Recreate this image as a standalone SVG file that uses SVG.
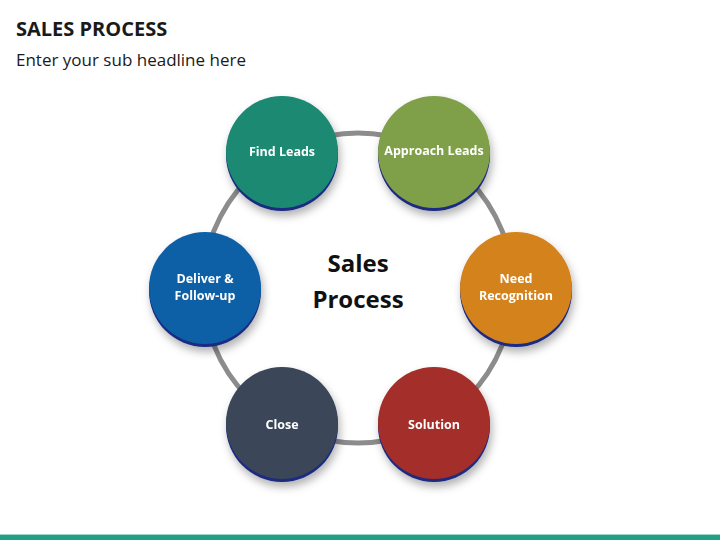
<svg xmlns="http://www.w3.org/2000/svg" width="720" height="540" viewBox="0 0 720 540">
<defs>
<style>
.t{font-family:"Open Sans","Liberation Sans",sans-serif;font-weight:bold;fill:#fff;font-size:12.5px;text-anchor:middle}
.sh{fill:#1a2a80}
</style>
<filter id="ds" x="-30%" y="-30%" width="160%" height="170%"><feDropShadow dx="2" dy="5" stdDeviation="4" flood-color="#000" flood-opacity="0.3"/></filter>
</defs>
<rect width="720" height="540" fill="#fff"/>
<text x="16" y="36" font-family="Open Sans, Liberation Sans, sans-serif" font-weight="bold" font-size="20" fill="#1a1a1a">SALES PROCESS</text>
<text x="16" y="66" font-family="Open Sans, Liberation Sans, sans-serif" font-size="17" fill="#1a1a1a">Enter your sub headline here</text>
<g id="connectors">
<circle cx="358" cy="288" r="155" fill="none" stroke="#8c8c8c" stroke-width="5"/>
</g>
<text x="358" y="272" font-family="Open Sans, Liberation Sans, sans-serif" font-weight="bold" font-size="24" fill="#111" text-anchor="middle">Sales</text>
<text x="358" y="308" font-family="Open Sans, Liberation Sans, sans-serif" font-weight="bold" font-size="24" fill="#111" text-anchor="middle">Process</text>
<g id="find" filter="url(#ds)"><circle class="sh" cx="282" cy="155" r="56"/><circle cx="282" cy="152" r="56" fill="#1a8a72"/><text class="t" x="282" y="156">Find Leads</text></g>
<g id="approach" filter="url(#ds)"><circle class="sh" cx="434" cy="155" r="56"/><circle cx="434" cy="152" r="56" fill="#7fa04a"/><text class="t" x="434" y="155">Approach Leads</text></g>
<g id="need" filter="url(#ds)"><circle class="sh" cx="516" cy="291" r="56"/><circle cx="516" cy="288" r="56" fill="#d4821f"/><text class="t" x="516" y="283">Need</text><text class="t" x="516" y="300">Recognition</text></g>
<g id="solution" filter="url(#ds)"><circle class="sh" cx="434" cy="426" r="56"/><circle cx="434" cy="423" r="56" fill="#a32e29"/><text class="t" x="434" y="429">Solution</text></g>
<g id="close" filter="url(#ds)"><circle class="sh" cx="282" cy="426" r="56"/><circle cx="282" cy="423" r="56" fill="#3a4658"/><text class="t" x="282" y="429">Close</text></g>
<g id="deliver" filter="url(#ds)"><circle class="sh" cx="205" cy="291" r="56"/><circle cx="205" cy="288" r="56" fill="#0f5fa6"/><text class="t" x="205" y="283">Deliver &amp;</text><text class="t" x="205" y="300">Follow-up</text></g>
<rect x="0" y="534" width="720" height="1" fill="#9fd6c8"/>
<rect x="0" y="535" width="720" height="5" fill="#21a085"/>
</svg>
